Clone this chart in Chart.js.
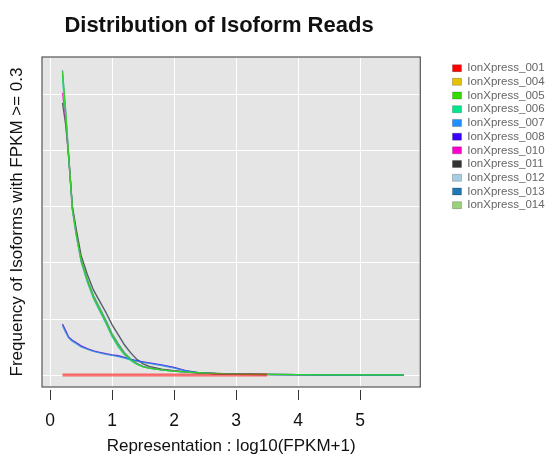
<!DOCTYPE html>
<html>
<head>
<meta charset="utf-8">
<script src="https://cdn.jsdelivr.net/npm/chart.js@4"></script>
<style>
  html, body { margin: 0; padding: 0; background: #fff; }
  #wrap { width: 549px; height: 457px; position: relative; }
</style>
</head>
<body>
<div id="wrap"><canvas id="chart"></canvas></div>
<script>
const chartTitle = "Distribution of Isoform Reads"
const xTitle = "Representation : log10(FPKM+1)"
const yTitle = "Frequency of Isoforms with FPKM >= 0.3"

const sampleNames = ["IonXpress_001", "IonXpress_004", "IonXpress_005", "IonXpress_006",
  "IonXpress_007", "IonXpress_008", "IonXpress_010", "IonXpress_011",
  "IonXpress_012", "IonXpress_013", "IonXpress_014"]
const sampleColors = ["#FF0000", "#E6C200", "#33DD00", "#00E68A", "#1E90FF", "#3A00FF",
  "#FF00CC", "#333333", "#A6CEE3", "#1F78B4", "#9BD17A"]

const xValues = [0.2, 0.25, 0.3, 0.36, 0.42, 0.5, 0.6, 0.7, 0.8, 0.9, 1.0, 1.1, 1.2, 1.3, 1.4,
  1.5, 1.6, 1.8, 2.0, 2.2, 2.4, 2.6, 2.8, 3.0, 3.5, 4.0, 4.5, 5.0, 5.7]
const xTicks = [0, 1, 2, 3, 4, 5]

const s001 = [0, 0, 0, 0, 0, 0, 0, 0, 0, 0, 0, 0, 0, 0, 0, 0, 0, 0, 0, 0, 0, 0, 0, 0, 0, null, null, null, null]
const s004 = [0.045, 0.039, 0.0335, 0.0305, 0.0285, 0.0255, 0.0232, 0.0213, 0.020, 0.0188, 0.0178, 0.0168, 0.0154, 0.0138, 0.0125, 0.0115, 0.0106, 0.0087, 0.0065, 0.0036, 0.0019, 0.0013, 0.0009, 0.0007, 0.0004, 0.0003, 0.0002, 0.0002, 0.0001]
const s005 = [0.271, 0.236, 0.196, 0.149, 0.127, 0.103, 0.085, 0.070, 0.059, 0.048, 0.036, 0.027, 0.019, 0.014, 0.010, 0.0075, 0.0062, 0.0046, 0.0034, 0.0026, 0.0020, 0.0015, 0.0011, 0.0008, 0.0005, 0.0003, 0.0002, 0.0002, 0.0001]
const s006 = [0.266, 0.232, 0.193, 0.147, 0.125, 0.101, 0.083, 0.068, 0.057, 0.046, 0.034, 0.025, 0.018, 0.013, 0.0095, 0.0072, 0.006, 0.0045, 0.0033, 0.0025, 0.0019, 0.0014, 0.001, 0.0008, 0.0005, 0.0003, 0.0002, 0.0002, 0.0001]
const s007 = [0.044, 0.038, 0.033, 0.030, 0.028, 0.025, 0.023, 0.021, 0.0198, 0.0185, 0.0175, 0.0165, 0.015, 0.0135, 0.0123, 0.0113, 0.0104, 0.0085, 0.0062, 0.0035, 0.0019, 0.0013, 0.0009, 0.0007, 0.0004, 0.0003, 0.0002, 0.0002, 0.0001]
const s008 = [0.0455, 0.040, 0.034, 0.031, 0.029, 0.026, 0.0235, 0.0215, 0.0202, 0.019, 0.018, 0.0172, 0.0158, 0.014, 0.0128, 0.0118, 0.0108, 0.009, 0.0068, 0.0038, 0.002, 0.0013, 0.0009, 0.0007, 0.0004, 0.0003, 0.0002, 0.0002, 0.0001]
const s010 = [0.252, 0.229, 0.194, 0.148, 0.126, 0.102, 0.084, 0.069, 0.058, 0.047, 0.035, 0.026, 0.0185, 0.0135, 0.0097, 0.0074, 0.0061, 0.0046, 0.0034, 0.0026, 0.002, 0.0015, 0.0011, 0.0008, 0.0005, 0.0003, 0.0002, 0.0002, 0.0001]
const s011 = [0.243, 0.224, 0.195, 0.151, 0.131, 0.107, 0.090, 0.076, 0.066, 0.056, 0.045, 0.036, 0.027, 0.020, 0.014, 0.010, 0.0077, 0.0053, 0.0038, 0.0028, 0.0021, 0.0016, 0.0012, 0.0009, 0.0005, 0.0003, 0.0002, 0.0002, 0.0001]
const s012 = [0.262, 0.231, 0.196, 0.150, 0.130, 0.106, 0.089, 0.075, 0.065, 0.055, 0.044, 0.035, 0.026, 0.019, 0.0135, 0.0098, 0.0074, 0.0051, 0.0037, 0.0027, 0.002, 0.0015, 0.0011, 0.0008, 0.0005, 0.0003, 0.0002, 0.0002, 0.0001]
const s013 = [0.272, 0.237, 0.197, 0.149, 0.128, 0.104, 0.086, 0.071, 0.060, 0.049, 0.037, 0.028, 0.020, 0.0145, 0.0105, 0.0078, 0.0063, 0.0047, 0.0035, 0.0026, 0.002, 0.0015, 0.0011, 0.0008, 0.0005, 0.0003, 0.0002, 0.0002, 0.0001]
const s014 = [0.268, 0.234, 0.195, 0.148, 0.127, 0.102, 0.084, 0.069, 0.058, 0.047, 0.035, 0.026, 0.0185, 0.0135, 0.0098, 0.0074, 0.0061, 0.0046, 0.0034, 0.0026, 0.002, 0.0015, 0.0011, 0.0008, 0.0005, 0.0003, 0.0002, 0.0002, 0.0001]

const seriesValues = [s001, s004, s005, s006, s007, s008, s010, s011, s012, s013, s014]

const FONT = "'Liberation Sans', Arial, Helvetica, sans-serif"

function withAlpha(hex, a) {
  const n = parseInt(hex.slice(1), 16)
  return `rgba(${(n >> 16) & 255}, ${(n >> 8) & 255}, ${n & 255}, ${a})`
}

const datasets = sampleNames.map((name, i) => {
  const isRed = i === 0
  return {
    label: name,
    data: xValues.map((x, j) => ({ x: x, y: seriesValues[i][j] })),
    borderColor: withAlpha(sampleColors[i], isRed ? 0.55 : 0.75),
    backgroundColor: sampleColors[i],
    borderWidth: isRed ? 3 : 1.3,
    pointRadius: 0,
    tension: 0,
    spanGaps: false,
    order: name === "IonXpress_004" ? 1 : 0
  }
})

// grey panel, frame and title in the R lattice style
const panelPlugin = {
  id: "panel",
  beforeDraw(chart) {
    const { ctx, chartArea: a } = chart
    ctx.save()
    ctx.fillStyle = "#E5E5E5"
    ctx.fillRect(a.left, a.top, a.right - a.left, a.bottom - a.top)
    ctx.restore()
  },
  afterDraw(chart) {
    const { ctx, chartArea: a } = chart
    ctx.save()
    ctx.strokeStyle = "#555"
    ctx.lineWidth = 1.2
    ctx.strokeRect(a.left, a.top, a.right - a.left, a.bottom - a.top)
    ctx.fillStyle = "#111"
    ctx.font = "bold 22px " + FONT
    ctx.textAlign = "center"
    ctx.textBaseline = "alphabetic"
    ctx.fillText(chartTitle, 219, 32)
    ctx.restore()
  }
}

new Chart(document.getElementById("chart"), {
  type: "line",
  data: { datasets: datasets },
  plugins: [panelPlugin],
  options: {
    responsive: true,
    maintainAspectRatio: false,
    animation: false,
    events: [],
    layout: { padding: { top: 57, right: -5.6, bottom: 0, left: 0 } },
    scales: {
      x: {
        type: "linear",
        min: -0.13,
        max: 5.97,
        afterFit: s => { s.height = 70 },
        afterBuildTicks: s => { s.ticks = xTicks.map(v => ({ value: v })) },
        grid: {
          color: "#FFFFFF",
          lineWidth: 1,
          drawTicks: true,
          tickLength: 13,
          tickColor: "#333",
          tickWidth: 1,
          tickBorderDash: [0, 3, 10, 100]
        },
        border: { display: false },
        ticks: {
          padding: 11,
          color: "#111",
          font: { family: FONT, size: 17.5 },
          callback: v => String(v)
        },
        title: {
          display: true,
          text: xTitle,
          color: "#111",
          font: { family: FONT, size: 17 },
          padding: { top: 0, bottom: 0 }
        }
      },
      y: {
        type: "linear",
        min: -0.0107,
        max: 0.2839,
        afterFit: s => { s.width = 42 },
        ticks: { display: false, stepSize: 0.05, includeBounds: false },
        grid: { color: "#FFFFFF", lineWidth: 1, drawTicks: false },
        border: { display: false },
        title: {
          display: true,
          text: yTitle,
          color: "#111",
          font: { family: FONT, size: 17 },
          padding: { top: 7.3, bottom: 0 }
        }
      },
      gap: {
        type: "linear",
        position: "right",
        display: true,
        afterFit: s => { s.width = 30 },
        grid: { display: false },
        ticks: { display: false },
        border: { display: false }
      }
    },
    plugins: {
      tooltip: { enabled: false },
      legend: {
        display: true,
        position: "right",
        align: "start",
        maxWidth: 140,
        title: { display: true, text: "", font: { size: 1 }, padding: { top: 2, bottom: 0 } },
        labels: {
          boxWidth: 9,
          boxHeight: 7,
          padding: 2.2,
          color: "#444",
          font: { family: FONT, size: 11.5 },
          generateLabels: chart => chart.data.datasets.map((ds, i) => ({
            text: ds.label,
            fillStyle: sampleColors[i],
            strokeStyle: "rgba(0,0,0,0.35)",
            lineWidth: 0.6,
            hidden: false,
            datasetIndex: i
          }))
        }
      }
    }
  }
})
</script>
</body>
</html>
